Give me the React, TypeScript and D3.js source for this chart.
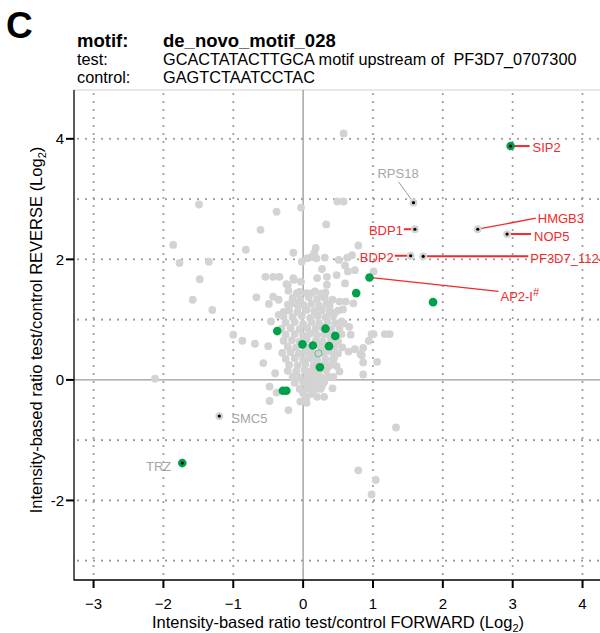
import React, { useEffect, useRef } from 'react';
import * as d3 from 'd3';

// ticks / grid
const xTicks = [-3, -2, -1, 0, 1, 2, 3, 4];
const yTicks = [4, 2, 0, -2];
const gridX = [-3, -2, -1, 1, 2, 3, 4];
const gridY = [-3, -2, -1, 1, 2, 3, 4];

// all proteins (gray), log2 FORWARD vs REVERSE
const grayPoints: [number, number][] = [
  [0.58, 4.09], [-1.49, 2.91], [-0.38, 2.79], [-0.03, 2.86], [0.49, 2.96], [0.58, 2.96],
  [-0.61, 2.49], [0.33, 2.58], [-0.82, 2.16], [-1.35, 1.96], [-0.14, 2.11], [0.79, 2.23],
  [-0.02, 1.96], [0.12, 2.04], [0.16, 2.11], [0.19, 2.02], [0.06, 2.02], [0.18, 2.19],
  [0.31, 2.03], [0.51, 1.99], [0.63, 2.03], [0.7, 2.07], [0.6, 1.9], [0.64, 1.8], [0.74, 1.82],
  [0.27, 1.84], [-1.48, 1.67], [-0.54, 1.71], [-0.43, 1.71], [-0.34, 1.71], [-0.14, 1.69],
  [0.2, 1.69], [0.34, 1.71], [0.48, 1.74], [-1.58, 1.33], [-1.3, 1.16], [-0.67, 1.37],
  [-1.0, 0.75], [-0.87, 0.65], [-0.69, 0.6], [-0.5, 0.56], [-0.49, 1.26], [-0.35, 1.33],
  [-0.21, 1.48], [-0.24, 1.59], [-0.13, 1.66], [-0.03, 1.63], [-0.48, -0.11], [-0.4, 0.11],
  [-0.48, -0.35], [-0.21, -0.5], [0.05, -0.28], [0.2, -0.28], [0.3, -0.28], [0.42, -0.14],
  [0.27, -0.1], [0.86, 0.09], [0.74, 0.51], [0.86, 0.53], [0.94, 0.65], [1.01, 0.76],
  [0.65, 0.47], [0.82, 0.43], [0.68, 0.75], [0.58, 0.94], [0.66, 0.88], [0.72, 1.27],
  [0.61, 1.3], [0.52, 1.3], [0.57, 1.17], [0.45, 1.11], [0.38, 1.22], [1.01, 1.8],
  [0.6, 1.6], [0.34, 1.58], [0.32, 1.45], [0.43, 0.34], [0.48, 0.23], [0.36, 0.22],
  [0.44, 0.43], [0.56, 0.54], [-0.22, 1.58], [-0.43, 1.38], [-0.18, 1.26], [-0.09, 1.44],
  [0.12, 1.44], [-0.35, 1.08], [-0.28, 1.13], [-0.46, 0.97], [-0.07, 1.22], [-0.57, 0.28],
  [-0.38, -0.21], [-0.04, -0.36], [0.05, -0.38], [0.98, 0.76], [1.17, 0.76], [1.24, 0.76],
  [0.84, 0.41], [0.86, 0.29], [1.06, 0.3], [0.52, 0.14], [0.43, 0.05], [1.33, -0.79],
  [0.79, -1.5], [1.04, -1.66], [0.98, -1.9], [-2.12, 0.02], [-1.86, 2.24], [-1.77, 1.94],
  // dense core
  [-0.05, 1.46], [0.05, 1.44], [0.17, 1.47], [0.26, 1.43],
  [-0.15, 1.36], [-0.04, 1.33], [0.08, 1.37], [0.2, 1.34], [0.31, 1.36], [0.42, 1.33],
  [-0.22, 1.25], [-0.1, 1.27], [0.01, 1.24], [0.12, 1.26], [0.23, 1.23], [0.34, 1.26],
  [-0.2, 1.15], [-0.08, 1.13], [0.05, 1.16], [0.16, 1.14], [0.27, 1.16], [0.38, 1.13], [0.5, 1.15],
  [-0.28, 1.05], [-0.15, 1.04], [-0.02, 1.06], [0.1, 1.03], [0.21, 1.06], [0.32, 1.04], [0.43, 1.06],
  [-0.25, 0.95], [-0.12, 0.96], [0.0, 0.93], [0.12, 0.96], [0.23, 0.94], [0.35, 0.96], [0.46, 0.94], [0.55, 0.97],
  [-0.31, 0.85], [-0.18, 0.86], [-0.05, 0.84], [0.06, 0.86], [0.18, 0.85], [0.28, 0.87], [0.4, 0.84], [0.52, 0.86],
  [-0.25, 0.75], [-0.12, 0.76], [0.0, 0.74], [0.1, 0.77], [0.2, 0.74], [0.3, 0.76], [0.38, 0.74], [0.55, 0.76],
  [-0.28, 0.65], [-0.16, 0.66], [-0.05, 0.64], [0.05, 0.67], [0.18, 0.65], [0.28, 0.64], [0.4, 0.66], [0.5, 0.64],
  [-0.22, 0.55], [-0.1, 0.54], [0.02, 0.56], [0.1, 0.53], [0.25, 0.55], [0.33, 0.54], [0.45, 0.56],
  [-0.3, 0.45], [-0.18, 0.46], [-0.06, 0.44], [0.05, 0.46], [0.15, 0.43], [0.3, 0.45], [0.4, 0.47], [0.5, 0.44],
  [-0.25, 0.35], [-0.12, 0.36], [0.0, 0.34], [0.1, 0.36], [0.2, 0.33], [0.32, 0.35], [0.44, 0.36],
  [-0.2, 0.25], [-0.08, 0.24], [0.03, 0.26], [0.15, 0.24], [0.3, 0.26], [0.4, 0.25],
  [-0.22, 0.15], [-0.1, 0.14], [0.02, 0.16], [0.12, 0.15], [0.22, 0.14], [0.33, 0.16],
  [-0.15, 0.05], [-0.05, 0.04], [0.06, 0.06], [0.16, 0.05], [0.26, 0.04], [0.36, 0.06],
  [-0.12, -0.05], [0.0, -0.04], [0.1, -0.06], [0.2, -0.05], [0.3, -0.04],
  [-0.05, -0.15], [0.06, -0.14], [0.16, -0.16], [0.25, -0.15],
  [0.0, -0.22], [0.12, -0.23],
];

// highlighted (green) proteins without label
const greenPoints: [number, number][] = [
  [0.76, 1.44], [-0.37, 0.81], [0.32, 0.85], [0.46, 0.73], [-0.01, 0.59], [0.14, 0.57],
  [0.37, 0.56], [0.24, 0.21], [-0.29, -0.18], [-0.24, -0.18], [1.86, 1.29],
];
const hollowPoints: [number, number][] = [[0.22, 0.44]];

// labelled proteins
const hitNames = ['SIP2', 'RPS18', 'BDP1', 'HMGB3', 'NOP5', 'BDP2', 'PF3D7_1124900', 'AP2-I', 'SMC5', 'TRZ'];
const hitX = [2.97, 1.58, 1.6, 2.5, 2.92, 1.54, 1.72, 0.95, -1.2, -1.73];
const hitY = [3.88, 2.94, 2.5, 2.5, 2.42, 2.06, 2.05, 1.7, -0.6, -1.38];
const hitGreen = [true, false, false, false, false, false, false, true, false, true];
const hitDot = [true, true, true, true, true, true, true, false, true, true];
const hitRed = [true, false, true, true, true, true, true, true, false, false];

// label placement (pixel offsets from the point)
const labelPos: { [k: string]: { tx: number; ty: number; anchor: string; lx?: number; ly?: number; sx?: number; sy?: number; sup?: string } } = {
  SIP2: { tx: 22, ty: 1, anchor: 'start', lx: 19, ly: 0 },
  RPS18: { tx: -36, ty: -29, anchor: 'start', lx: -15, ly: -21, sx: -2, sy: -3 },
  BDP1: { tx: -12, ty: 1, anchor: 'end', lx: -11, ly: 0, sx: -3, sy: 0 },
  HMGB3: { tx: 60, ty: -11, anchor: 'start', lx: 58, ly: -11 },
  NOP5: { tx: 27, ty: 2, anchor: 'start', lx: 24, ly: 0 },
  BDP2: { tx: -17, ty: 2, anchor: 'end', lx: -16, ly: 0, sx: -3, sy: 0 },
  PF3D7_1124900: { tx: 107, ty: 2, anchor: 'start', lx: 105, ly: 0 },
  'AP2-I': { tx: 131, ty: 19, anchor: 'start', lx: 129, ly: 14, sup: '#' },
  SMC5: { tx: 12, ty: 2, anchor: 'start' },
  TRZ: { tx: -11, ty: 3, anchor: 'end' },
};

function App() {
  const ref = useRef<SVGSVGElement | null>(null);

  useEffect(() => {
    const svg = d3.select(ref.current);
    svg.selectAll('*').remove();
    const font = '"Liberation Sans", Arial, sans-serif';

    const left = 74, right = 600, top = 90, bottom = 580;
    const x = d3.scaleLinear().domain([-3.28, 4.25]).range([left, right]);
    const y = d3.scaleLinear().domain([-3.32, 4.81]).range([bottom, top]);

    // header
    svg.append('text').attr('x', 6).attr('y', 38).attr('font-family', font)
      .attr('font-size', 37).attr('font-weight', 'bold').text('C');
    const head = [
      ['motif:', 'de_novo_motif_028', 'bold', 18.5, 47],
      ['test:', 'GCACTATACTTGCA motif upstream of  PF3D7_0707300', 'normal', 16.3, 65],
      ['control:', 'GAGTCTAATCCTAC', 'normal', 16.3, 83],
    ];
    head.forEach(h => {
      svg.append('text').attr('x', 77).attr('y', h[4] as number).attr('font-family', font)
        .attr('font-size', h[3] as number).attr('font-weight', h[2] as string).text(h[0] as string);
      svg.append('text').attr('x', 163).attr('y', h[4] as number).attr('font-family', font)
        .attr('font-size', h[3] as number).attr('font-weight', h[2] as string)
        .style('white-space', 'pre').text(h[1] as string);
    });

    const plot = svg.append('g');
    plot.append('line').attr('x1', left).attr('x2', right).attr('y1', top).attr('y2', top)
      .attr('stroke', '#d0d0d0').attr('stroke-width', 1);

    // dotted grid
    const dot = { color: '#999', width: 2.2, dash: '0 8' };
    gridX.forEach(v => {
      plot.append('line').attr('x1', x(v)).attr('x2', x(v)).attr('y1', top + 4).attr('y2', bottom)
        .attr('stroke', dot.color).attr('stroke-width', dot.width)
        .attr('stroke-dasharray', dot.dash).attr('stroke-linecap', 'round');
    });
    gridY.forEach(v => {
      plot.append('line').attr('x1', left + 4).attr('x2', right).attr('y1', y(v)).attr('y2', y(v))
        .attr('stroke', dot.color).attr('stroke-width', dot.width)
        .attr('stroke-dasharray', dot.dash).attr('stroke-linecap', 'round');
    });
    // zero lines
    plot.append('line').attr('x1', x(0)).attr('x2', x(0)).attr('y1', top).attr('y2', bottom)
      .attr('stroke', '#9a9a9a').attr('stroke-width', 1.3);
    plot.append('line').attr('x1', left).attr('x2', right).attr('y1', y(0)).attr('y2', y(0))
      .attr('stroke', '#9a9a9a').attr('stroke-width', 1.3);

    // gray points
    plot.append('g').selectAll('circle').data(grayPoints).join('circle')
      .attr('cx', d => x(d[0])).attr('cy', d => y(d[1])).attr('r', 3.9).attr('fill', '#d3d3d3');

    const hits = hitNames.map((name, i) => ({
      name, vx: hitX[i], vy: hitY[i], green: hitGreen[i], dot: hitDot[i], red: hitRed[i],
    }));

    // leader lines
    hits.forEach(h => {
      const p = labelPos[h.name];
      if (p.lx === undefined) return;
      const px = x(h.vx), py = y(h.vy);
      const diag = p.ly !== 0;
      plot.append('line')
        .attr('x1', px + (p.sx || 0)).attr('y1', py + (p.sy || 0))
        .attr('x2', px + p.lx).attr('y2', py + (p.ly || 0))
        .attr('stroke', h.red ? '#ee2a2e' : '#9a9a9a')
        .attr('stroke-width', h.red ? (diag ? 1.3 : 2) : 1);
    });

    // labelled point bodies
    plot.append('g').selectAll('circle').data(hits.filter(h => !h.green)).join('circle')
      .attr('cx', d => x(d.vx)).attr('cy', d => y(d.vy)).attr('r', 3.9).attr('fill', '#d3d3d3');

    // hollow one
    plot.append('g').selectAll('circle').data(hollowPoints).join('circle')
      .attr('cx', d => x(d[0])).attr('cy', d => y(d[1])).attr('r', 3.6)
      .attr('fill', '#d3d3d3').attr('stroke', '#2bb06a').attr('stroke-width', 0.7);

    // green points
    plot.append('g').selectAll('circle').data(greenPoints).join('circle')
      .attr('cx', d => x(d[0])).attr('cy', d => y(d[1])).attr('r', 4.3).attr('fill', '#00a14b');
    plot.append('g').selectAll('circle').data(hits.filter(h => h.green)).join('circle')
      .attr('cx', d => x(d.vx)).attr('cy', d => y(d.vy)).attr('r', 4.3).attr('fill', '#00a14b');

    // black centres
    plot.append('g').selectAll('circle').data(hits.filter(h => h.dot)).join('circle')
      .attr('cx', d => x(d.vx)).attr('cy', d => y(d.vy)).attr('r', 1.6).attr('fill', '#000');

    // labels
    hits.forEach(h => {
      const p = labelPos[h.name];
      const t = plot.append('text')
        .attr('x', x(h.vx) + p.tx).attr('y', y(h.vy) + p.ty).attr('dy', '0.36em')
        .attr('text-anchor', p.anchor).attr('font-family', font).attr('font-size', 13)
        .attr('fill', h.red ? '#ee2a2e' : '#a6a6a6').text(h.name);
      if (p.sup) {
        t.append('tspan').attr('dy', '-0.45em').attr('font-size', 11).text(p.sup);
      }
    });

    // axes frame
    svg.append('line').attr('x1', left).attr('x2', left).attr('y1', top).attr('y2', bottom + 0.5)
      .attr('stroke', '#000').attr('stroke-width', 1.3);
    svg.append('line').attr('x1', left).attr('x2', right).attr('y1', bottom).attr('y2', bottom)
      .attr('stroke', '#000').attr('stroke-width', 1.3);

    // x ticks
    xTicks.forEach(v => {
      svg.append('line').attr('x1', x(v)).attr('x2', x(v)).attr('y1', bottom).attr('y2', bottom + 8)
        .attr('stroke', '#000').attr('stroke-width', 2);
      svg.append('text').attr('x', x(v)).attr('y', 609).attr('text-anchor', 'middle')
        .attr('font-family', font).attr('font-size', 15)
        .text(v < 0 ? '\u2212' + Math.abs(v) : String(v));
    });
    // y ticks
    yTicks.forEach(v => {
      svg.append('line').attr('x1', left - 8).attr('x2', left).attr('y1', y(v)).attr('y2', y(v))
        .attr('stroke', '#000').attr('stroke-width', 2);
      svg.append('text').attr('x', left - 10).attr('y', y(v)).attr('dy', '0.36em')
        .attr('text-anchor', 'end').attr('font-family', font).attr('font-size', 15)
        .text(String(v));
    });

    // axis titles
    const xt = svg.append('text').attr('x', 338).attr('y', 628).attr('text-anchor', 'middle')
      .attr('font-family', font).attr('font-size', 16.5)
      .text('Intensity-based ratio test/control FORWARD (Log');
    xt.append('tspan').attr('font-size', 11).attr('dy', 4).text('2');
    xt.append('tspan').attr('dy', -4).text(')');

    const yt = svg.append('text').attr('transform', `translate(42,${330}) rotate(-90)`)
      .attr('text-anchor', 'middle').attr('font-family', font).attr('font-size', 16.5)
      .text('Intensity-based ratio test/control REVERSE (Log');
    yt.append('tspan').attr('font-size', 11).attr('dy', 4).text('2');
    yt.append('tspan').attr('dy', -4).text(')');
  }, []);

  return (
    <svg ref={ref} width={600} height={633}
      style={{ position: 'absolute', left: 0, top: 0, background: '#fff' }} />
  );
}

export default App;
